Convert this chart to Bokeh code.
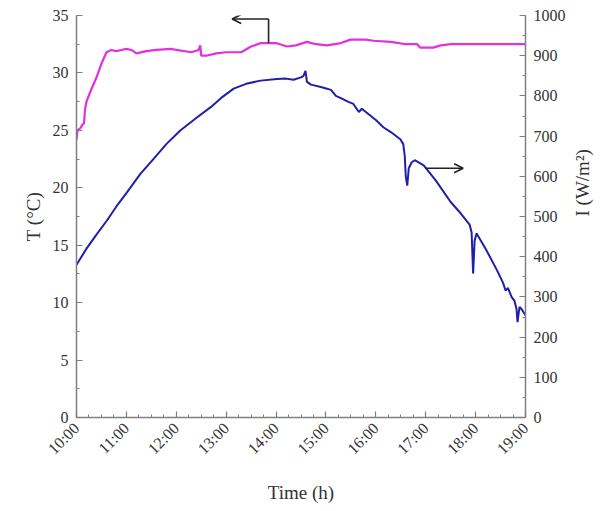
import math
from bokeh.plotting import figure
from bokeh.models import (Range1d, LinearAxis, SingleIntervalTicker, Arrow, OpenHead)
from bokeh.embed import file_html
from bokeh.resources import INLINE

# ---- data ----
t_time = [10.00, 10.02, 10.08, 10.12, 10.15, 10.17, 10.20, 10.30, 10.40, 10.50, 10.60, 10.70,
          10.80, 10.90, 11.00, 11.10, 11.20, 11.40, 11.60, 11.90, 12.00, 12.30, 12.45, 12.48,
          12.50, 12.60, 12.80, 13.00, 13.30, 13.50, 13.70, 13.85, 14.00, 14.22, 14.40, 14.62,
          14.80, 15.02, 15.30, 15.49, 15.80, 15.95, 16.30, 16.60, 16.83, 16.89, 17.15, 17.30,
          17.50, 18.00, 18.50, 19.00]
t_vals = [24.2, 25.0, 25.2, 25.5, 25.6, 26.8, 27.5, 28.6, 29.6, 30.8, 31.8, 32.0,
          31.9, 32.0, 32.1, 32.0, 31.7, 31.9, 32.0, 32.1, 32.0, 31.8, 32.0, 32.4,
          31.5, 31.5, 31.7, 31.8, 31.8, 32.3, 32.6, 32.6, 32.6, 32.3, 32.4, 32.7,
          32.5, 32.4, 32.6, 32.9, 32.9, 32.8, 32.7, 32.5, 32.5, 32.2, 32.2, 32.4,
          32.5, 32.5, 32.5, 32.5]

i_time = [10.00, 10.20, 10.40, 10.61, 10.80, 11.00, 11.28, 11.55, 11.80, 12.08, 12.40, 12.69,
          12.90, 13.15, 13.40, 13.69, 14.02, 14.20, 14.35, 14.50, 14.55, 14.59, 14.62, 14.70,
          14.90, 15.02, 15.10, 15.20, 15.32, 15.45, 15.55, 15.66, 15.72, 15.80, 16.00, 16.15,
          16.30, 16.49, 16.55, 16.58, 16.60, 16.63, 16.66, 16.72, 16.78, 16.96, 17.20, 17.50,
          17.70, 17.88, 17.92, 17.95, 17.98, 18.02, 18.20, 18.43, 18.55, 18.60, 18.65, 18.72,
          18.78, 18.82, 18.84, 18.88, 18.93, 19.00]
i_vals = [380, 420, 455, 490, 525, 558, 606, 644, 680, 714, 745, 772,
          795, 818, 830, 838, 842, 843, 840, 846, 850, 862, 835, 828,
          822, 818, 815, 800, 793, 785, 780, 760, 768, 760, 740, 722,
          710, 692, 680, 650, 600, 577, 620, 635, 640, 627, 590, 536,
          508, 480, 460, 358, 440, 458, 420, 366, 335, 316, 322, 300,
          290, 270, 237, 275, 268, 254]

hour_ticks = [10, 11, 12, 13, 14, 15, 16, 17, 18, 19]
hour_labels = ["10:00", "11:00", "12:00", "13:00", "14:00", "15:00", "16:00", "17:00", "18:00", "19:00"]

T_TITLE = "T (°C)"
I_TITLE = "I (W/m²)"
X_TITLE = "Time (h)"

# annotation arrows (positions in data units)
ARROW_T = dict(x0=13.85, y0=32.6, ytop=34.7, x1=13.12)
ARROW_I = dict(x0=16.99, y=620, x1=17.75)

FONT = "Liberation Serif"
AXIS_COLOR = "#7f7f7f"
TEXT_COLOR = "#333333"

p = figure(width=607, height=511, output_backend="svg", toolbar_location=None,
           x_range=Range1d(10, 19), y_range=Range1d(0, 35),
           min_border_left=76, min_border_right=82, min_border_top=15, min_border_bottom=94)
p.extra_y_ranges = {"I": Range1d(0, 1000)}
p.outline_line_color = None
p.xgrid.visible = False
p.ygrid.visible = False
p.background_fill_color = "white"
p.border_fill_color = "white"

right_axis = LinearAxis(y_range_name="I")
p.add_layout(right_axis, "right")

p.xaxis.ticker = SingleIntervalTicker(interval=1, num_minor_ticks=4)
p.xaxis.major_label_overrides = {h: s for h, s in zip(hour_ticks, hour_labels)}
p.xaxis.major_label_orientation = math.pi / 4
p.yaxis[0].ticker = SingleIntervalTicker(interval=5, num_minor_ticks=2)
right_axis.ticker = SingleIntervalTicker(interval=100, num_minor_ticks=2)

for ax in [p.xaxis[0], p.yaxis[0], right_axis]:
    ax.axis_line_color = AXIS_COLOR
    ax.axis_line_width = 1.5
    ax.major_tick_line_color = AXIS_COLOR
    ax.minor_tick_line_color = AXIS_COLOR
    ax.major_tick_line_width = 1.2
    ax.minor_tick_line_width = 1.0
    ax.major_tick_in = 6
    ax.major_tick_out = 0
    ax.minor_tick_in = 3
    ax.minor_tick_out = 0
    ax.major_label_text_font = FONT
    ax.major_label_text_font_size = "16px"
    ax.major_label_text_color = TEXT_COLOR
    ax.major_label_standoff = 8
    ax.axis_label_text_font = FONT
    ax.axis_label_text_font_size = "19px"
    ax.axis_label_text_font_style = "normal"
    ax.axis_label_text_color = TEXT_COLOR

p.yaxis[0].axis_label = T_TITLE
p.yaxis[0].axis_label_standoff = 6
right_axis.axis_label = I_TITLE
right_axis.axis_label_standoff = 14
right_axis.axis_label_orientation = math.pi / 2
p.xaxis[0].axis_label = X_TITLE
p.xaxis[0].axis_label_standoff = 16

p.line(t_time, t_vals, line_color="#e030e0", line_width=2.2)
p.line(i_time, i_vals, line_color="#1f1fa8", line_width=2.0, y_range_name="I")

# arrows
p.segment(x0=[ARROW_T["x0"]], y0=[ARROW_T["y0"]], x1=[ARROW_T["x0"]], y1=[ARROW_T["ytop"]],
          line_color="#222222", line_width=1.6)
p.add_layout(Arrow(end=OpenHead(size=9, line_color="#222222", line_width=1.6),
                   x_start=ARROW_T["x0"], y_start=ARROW_T["ytop"],
                   x_end=ARROW_T["x1"], y_end=ARROW_T["ytop"],
                   line_color="#222222", line_width=1.6))
p.add_layout(Arrow(end=OpenHead(size=9, line_color="#222222", line_width=1.6),
                   x_start=ARROW_I["x0"], y_start=ARROW_I["y"],
                   x_end=ARROW_I["x1"], y_end=ARROW_I["y"],
                   line_color="#222222", line_width=1.6, y_range_name="I"))

open("out.html", "w").write(file_html(p, INLINE))
